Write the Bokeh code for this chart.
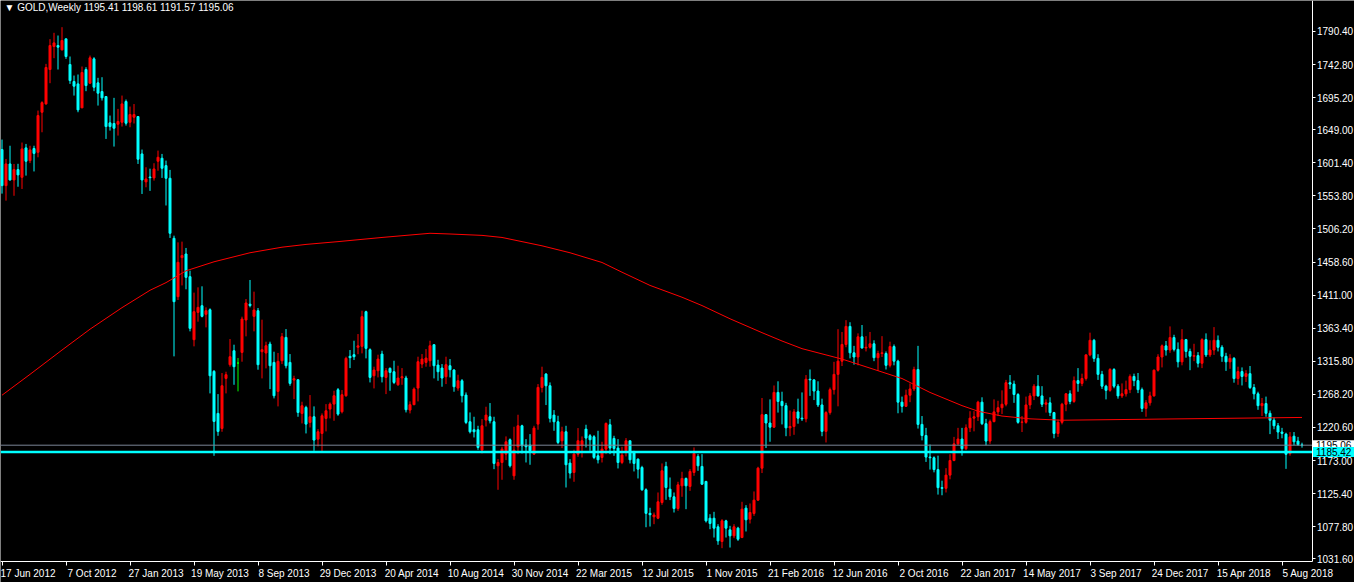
from bokeh.plotting import figure
from bokeh.models import Range1d, FixedTicker, LinearAxis, Label, ColumnDataSource
from bokeh.embed import file_html
from bokeh.resources import INLINE

# ---------------- data (weekly GOLD, first bar = week of 17 Jun 2012) ----------------
opens = [
    1620.5, 1568.6, 1599.8, 1576.8, 1591.7, 1580.6, 1622.9, 1604.6, 1622.0, 1616.6,
    1674.2, 1686.2, 1735.7, 1768.8, 1770.2, 1764.0, 1779.8, 1742.9, 1718.4, 1715.0,
    1680.5, 1735.7, 1716.0, 1751.0, 1716.5, 1704.0, 1696.8, 1658.9, 1658.0, 1657.0,
    1659.8, 1689.6, 1659.8, 1667.0, 1668.0, 1614.2, 1574.0, 1581.0, 1579.7, 1603.7,
    1608.0, 1597.4, 1579.2, 1492.8, 1408.8, 1465.0, 1470.2, 1437.6, 1346.9, 1386.2,
    1395.8, 1383.4, 1390.0, 1301.3, 1240.8, 1219.2, 1291.2, 1310.9, 1331.0, 1313.3,
    1328.6, 1375.2, 1398.0, 1380.5, 1388.6, 1329.6, 1327.7, 1340.6, 1314.2, 1272.5,
    1316.6, 1350.2, 1314.2, 1288.8, 1289.3, 1240.8, 1249.4, 1227.8, 1236.0, 1203.8,
    1212.0, 1233.6, 1247.0, 1254.2, 1274.9, 1243.2, 1266.2, 1323.0, 1325.3, 1336.0,
    1337.3, 1387.2, 1332.5, 1295.0, 1302.2, 1326.2, 1292.6, 1305.6, 1300.8, 1282.0,
    1292.0, 1291.7, 1245.6, 1253.3, 1277.3, 1311.8, 1314.2, 1316.6, 1339.7, 1310.4,
    1306.1, 1293.6, 1309.4, 1303.2, 1277.3, 1287.8, 1267.2, 1228.8, 1217.3, 1217.3,
    1188.0, 1231.2, 1236.0, 1228.8, 1165.4, 1170.2, 1182.2, 1202.9, 1151.0, 1192.8,
    1223.0, 1195.2, 1195.2, 1182.2, 1225.4, 1278.2, 1297.4, 1280.6, 1238.4, 1228.8,
    1201.4, 1214.4, 1169.3, 1155.8, 1182.2, 1194.2, 1218.2, 1208.6, 1207.2, 1179.8,
    1177.4, 1189.4, 1224.5, 1204.8, 1190.9, 1170.2, 1187.0, 1201.4, 1184.6, 1175.0,
    1163.0, 1130.9, 1097.0, 1092.0, 1090.0, 1112.6, 1164.5, 1131.8, 1120.8, 1104.0,
    1136.6, 1147.2, 1135.7, 1155.8, 1178.9, 1164.5, 1142.9, 1090.0, 1090.0, 1077.6,
    1056.5, 1086.2, 1073.3, 1064.6, 1075.7, 1062.2, 1104.5, 1088.6, 1096.8, 1116.0,
    1162, 1239, 1227, 1221, 1271, 1258, 1252, 1220, 1222, 1243,
    1234, 1233, 1290, 1289, 1273, 1253, 1215, 1242, 1275, 1297,
    1316, 1340, 1366, 1328, 1322, 1351, 1335, 1336, 1341, 1321,
    1327, 1327, 1310, 1337, 1316, 1257, 1251, 1267, 1276, 1304,
    1225, 1209, 1178, 1177, 1160, 1134, 1133, 1152, 1173, 1197,
    1204, 1190, 1220, 1234, 1236, 1257, 1226, 1201, 1229, 1243,
    1249, 1254, 1285, 1283, 1268, 1228, 1228, 1253, 1266, 1280,
    1266, 1254, 1256, 1242, 1212, 1228, 1254, 1269, 1258, 1288,
    1284, 1291, 1325, 1346, 1320, 1297, 1280, 1274, 1304, 1280,
    1266, 1269, 1275, 1294, 1288, 1275, 1248, 1256, 1266, 1303,
    1322, 1338, 1332, 1350, 1333, 1315, 1347, 1330, 1323, 1324,
    1313, 1347, 1325, 1332, 1346, 1336, 1323, 1315, 1320, 1291,
    1301, 1294, 1298, 1278, 1269, 1252, 1255, 1241, 1231, 1223,
    1214, 1211, 1183, 1208, 1201, 1195.41,
]
highs = [
    1634.9, 1607.0, 1626.0, 1599.8, 1600.0, 1630.6, 1628.6, 1626.0, 1626.0, 1676.6,
    1690.0, 1743.8, 1779.4, 1788.5, 1784.6, 1796.6, 1779.8, 1754.4, 1727.0, 1728.5,
    1740.0, 1739.0, 1755.8, 1753.4, 1723.7, 1724.6, 1696.8, 1669.4, 1694.9, 1679.0,
    1698.2, 1692.5, 1682.4, 1686.0, 1668.0, 1620.5, 1595.0, 1593.0, 1600.8, 1619.0,
    1614.2, 1604.6, 1591.2, 1496.6, 1487.0, 1488.0, 1478.9, 1446.2, 1414.6, 1422.2,
    1423.7, 1393.4, 1392.0, 1303.2, 1268.6, 1298.9, 1300.8, 1347.8, 1339.7, 1320.5,
    1380.0, 1405.4, 1432.8, 1416.0, 1392.5, 1375.7, 1344.0, 1344.0, 1329.6, 1327.7,
    1356.5, 1362.2, 1326.2, 1295.0, 1289.3, 1257.6, 1251.8, 1267.2, 1250.9, 1218.2,
    1240.8, 1254.2, 1256.6, 1273.4, 1277.3, 1274.4, 1322.4, 1332.0, 1345.4, 1355.0,
    1388.6, 1388.6, 1334.4, 1308.0, 1325.3, 1331.0, 1306.1, 1307.0, 1316.6, 1309.4,
    1306.0, 1295.0, 1258.1, 1278.2, 1322.4, 1326.2, 1333.4, 1345.4, 1339.7, 1318.0,
    1311.8, 1322.4, 1319.0, 1304.6, 1296.5, 1290.2, 1271.0, 1242.2, 1236.0, 1223.0,
    1232.6, 1250.4, 1255.7, 1236.0, 1175.0, 1192.8, 1207.7, 1204.8, 1221.6, 1238.9,
    1224.5, 1203.8, 1211.0, 1223.0, 1283.0, 1308.0, 1298.9, 1285.4, 1245.6, 1237.4,
    1221.6, 1223.0, 1175.0, 1188.5, 1219.7, 1207.7, 1224.5, 1211.0, 1209.6, 1215.8,
    1200.0, 1227.8, 1232.6, 1208.6, 1203.8, 1192.8, 1205.3, 1201.4, 1187.0, 1176.0,
    1165.4, 1133.0, 1105.0, 1098.2, 1127.0, 1168.8, 1171.2, 1148.6, 1127.0, 1142.4,
    1156.8, 1148.6, 1160.6, 1191.8, 1182.2, 1182.2, 1143.8, 1095.8, 1099.2, 1081.4,
    1088.6, 1087.7, 1079.0, 1081.4, 1077.6, 1113.6, 1108.8, 1111.2, 1128.5, 1164.0,
    1263, 1240, 1261, 1281, 1287, 1272, 1256, 1245, 1247, 1262,
    1271, 1296, 1304, 1290, 1287, 1262, 1244, 1278, 1315, 1362,
    1358, 1375, 1372, 1338, 1356, 1368, 1352, 1358, 1346, 1331,
    1352, 1330, 1344, 1340, 1318, 1265, 1275, 1284, 1308, 1338,
    1237, 1220, 1196, 1179, 1180, 1144, 1162, 1182, 1207, 1220,
    1220, 1225, 1244, 1244, 1259, 1264, 1233, 1232, 1261, 1259,
    1274, 1289, 1296, 1288, 1270, 1237, 1265, 1270, 1283, 1296,
    1280, 1261, 1264, 1243, 1232, 1256, 1270, 1274, 1294, 1306,
    1298, 1326, 1357, 1348, 1326, 1302, 1282, 1306, 1306, 1283,
    1284, 1288, 1297, 1298, 1299, 1278, 1260, 1272, 1304, 1326,
    1340, 1345, 1366, 1354, 1343, 1362, 1348, 1334, 1341, 1329,
    1349, 1356, 1346, 1365, 1353, 1339, 1328, 1326, 1322, 1308,
    1307, 1303, 1309, 1283, 1272, 1263, 1265, 1245, 1235, 1227,
    1220, 1213, 1214, 1214, 1207, 1198.61,
]
lows = [
    1557.1, 1547.0, 1575.8, 1554.0, 1567.0, 1563.8, 1583.0, 1601.0, 1589.0, 1609.4,
    1645.4, 1685.0, 1716.0, 1752.0, 1735.7, 1763.0, 1751.0, 1715.0, 1698.2, 1674.2,
    1680.5, 1704.5, 1715.0, 1704.5, 1683.8, 1691.0, 1635.8, 1647.8, 1624.8, 1640.6,
    1653.6, 1655.0, 1652.6, 1658.0, 1599.8, 1556.6, 1566.2, 1561.0, 1575.8, 1590.0,
    1579.7, 1540.0, 1493.3, 1322.9, 1404.0, 1425.0, 1419.4, 1358.9, 1337.3, 1372.8,
    1379.0, 1364.6, 1269.6, 1179.8, 1208.6, 1214.4, 1269.6, 1308.0, 1282.0, 1272.5,
    1315.2, 1351.7, 1393.4, 1358.9, 1303.7, 1291.2, 1305.6, 1275.8, 1262.4, 1250.9,
    1311.8, 1305.6, 1280.6, 1261.4, 1236.0, 1226.4, 1212.0, 1220.6, 1187.0, 1193.3,
    1184.6, 1214.9, 1233.6, 1230.2, 1237.4, 1240.8, 1264.8, 1306.0, 1317.6, 1326.0,
    1327.2, 1320.0, 1285.4, 1276.8, 1292.6, 1285.4, 1268.6, 1273.4, 1283.0, 1280.6,
    1282.0, 1242.2, 1240.8, 1252.8, 1258.1, 1306.0, 1308.0, 1308.0, 1291.2, 1287.8,
    1279.2, 1283.0, 1292.6, 1272.0, 1273.4, 1256.6, 1225.4, 1212.0, 1206.2, 1188.5,
    1183.2, 1222.0, 1226.4, 1160.6, 1130.9, 1145.3, 1173.6, 1163.0, 1145.3, 1182.2,
    1183.2, 1170.2, 1166.9, 1181.3, 1217.3, 1271.0, 1252.8, 1227.8, 1215.8, 1196.6,
    1190.9, 1134.2, 1147.2, 1142.4, 1178.4, 1177.4, 1191.8, 1187.0, 1175.0, 1168.8,
    1170.2, 1182.2, 1182.2, 1179.8, 1161.6, 1167.8, 1178.9, 1168.8, 1157.3, 1147.2,
    1129.4, 1077.0, 1078.0, 1081.4, 1088.6, 1109.3, 1116.5, 1116.0, 1098.2, 1100.6,
    1120.8, 1103.0, 1129.4, 1151.0, 1158.2, 1138.0, 1083.8, 1074.2, 1062.2, 1051.7,
    1046.9, 1062.2, 1047.8, 1061.3, 1057.4, 1061.3, 1070.9, 1082.4, 1093.4, 1115.0,
    1155, 1191, 1200, 1220, 1242, 1225, 1208, 1208, 1210, 1226,
    1230, 1228, 1266, 1260, 1250, 1208, 1199, 1239, 1268, 1251,
    1309, 1336, 1320, 1311, 1310, 1334, 1330, 1334, 1316, 1302,
    1322, 1304, 1307, 1310, 1241, 1242, 1250, 1257, 1273, 1219,
    1202, 1171, 1160, 1156, 1124, 1123, 1127, 1146, 1172, 1195,
    1180, 1188, 1214, 1215, 1230, 1224, 1195, 1197, 1228, 1237,
    1240, 1251, 1276, 1256, 1226, 1214, 1226, 1247, 1260, 1265,
    1250, 1242, 1237, 1205, 1207, 1225, 1244, 1254, 1256, 1272,
    1280, 1288, 1323, 1315, 1289, 1276, 1261, 1272, 1277, 1262,
    1263, 1265, 1270, 1280, 1270, 1243, 1236, 1252, 1265, 1301,
    1307, 1324, 1328, 1330, 1307, 1310, 1321, 1303, 1316, 1307,
    1306, 1322, 1322, 1325, 1330, 1315, 1302, 1305, 1285, 1282,
    1281, 1286, 1276, 1261, 1246, 1237, 1236, 1211, 1218, 1204,
    1205, 1161, 1180, 1195, 1194, 1191.57,
]
closes = [
    1568.6, 1599.8, 1576.8, 1591.7, 1584.0, 1621.4, 1603.7, 1620.0, 1615.0, 1669.4,
    1688.0, 1738.6, 1770.2, 1774.0, 1767.8, 1777.4, 1754.4, 1719.8, 1711.7, 1677.6,
    1731.4, 1712.6, 1752.5, 1710.2, 1701.6, 1694.9, 1653.6, 1653.6, 1651.2, 1660.9,
    1686.2, 1658.4, 1670.9, 1670.9, 1606.6, 1576.8, 1578.2, 1580.0, 1592.6, 1609.4,
    1593.6, 1579.2, 1500.0, 1401.6, 1458.2, 1468.0, 1436.6, 1363.2, 1387.2, 1393.4,
    1380.5, 1388.6, 1295.0, 1229.3, 1214.9, 1280.6, 1296.5, 1322.4, 1308.0, 1313.3,
    1376.6, 1399.7, 1396.0, 1389.6, 1310.9, 1332.5, 1338.2, 1309.4, 1266.2, 1315.7,
    1351.2, 1309.4, 1284.0, 1290.8, 1242.2, 1251.8, 1225.4, 1236.0, 1202.4, 1214.4,
    1237.4, 1244.6, 1254.2, 1266.2, 1239.8, 1267.7, 1320.0, 1321.0, 1322.4, 1338.0,
    1380.0, 1334.4, 1292.6, 1303.2, 1319.0, 1293.6, 1302.2, 1299.8, 1285.4, 1291.7,
    1293.6, 1246.1, 1253.3, 1275.8, 1315.2, 1319.0, 1320.5, 1338.2, 1309.4, 1300.8,
    1291.7, 1310.9, 1303.7, 1279.2, 1287.8, 1266.2, 1227.8, 1214.4, 1214.4, 1191.8,
    1223.0, 1238.4, 1230.2, 1168.8, 1170.2, 1189.4, 1200.0, 1165.4, 1188.0, 1223.0,
    1194.2, 1192.8, 1187.0, 1219.7, 1278.2, 1292.6, 1280.6, 1233.6, 1228.8, 1199.0,
    1214.4, 1166.9, 1154.9, 1182.2, 1201.4, 1201.4, 1205.3, 1202.9, 1177.4, 1174.1,
    1189.4, 1226.4, 1190.9, 1190.4, 1170.2, 1180.8, 1201.4, 1174.1, 1168.8, 1160.6,
    1130.9, 1097.0, 1095.0, 1094.6, 1113.6, 1158.2, 1134.2, 1120.8, 1104.0, 1138.0,
    1147.2, 1136.6, 1157.3, 1183.2, 1165.4, 1139.0, 1086.2, 1082.4, 1075.7, 1057.4,
    1086.2, 1075.7, 1064.6, 1077.6, 1059.8, 1103.0, 1087.7, 1098.2, 1116.0, 1162.0,
    1239, 1227, 1221, 1271, 1258, 1252, 1220, 1222, 1243, 1234,
    1233, 1290, 1289, 1273, 1253, 1215, 1242, 1275, 1297, 1316,
    1340, 1366, 1328, 1322, 1351, 1335, 1336, 1341, 1321, 1327,
    1328, 1310, 1337, 1316, 1257, 1251, 1267, 1276, 1304, 1225,
    1209, 1178, 1177, 1160, 1134, 1133, 1152, 1173, 1197, 1204,
    1190, 1220, 1234, 1236, 1257, 1226, 1201, 1229, 1243, 1249,
    1254, 1285, 1283, 1268, 1228, 1228.5, 1253, 1266, 1280, 1266,
    1254, 1256, 1242, 1212, 1228, 1254, 1269, 1258, 1288, 1284,
    1291, 1325, 1346, 1320, 1297, 1280, 1274, 1304, 1280, 1266,
    1269, 1275, 1294, 1288, 1275, 1248, 1256, 1266, 1303, 1322,
    1338, 1332, 1350, 1333, 1315, 1347, 1330, 1323, 1324, 1313,
    1347, 1325, 1332, 1346, 1336, 1323, 1315, 1320, 1291, 1301,
    1294, 1298, 1278, 1269, 1252, 1255, 1241, 1231, 1223, 1214,
    1212, 1182, 1207, 1200, 1196, 1195.06,
]

# 200-period moving average (bar index, value)
ma_idx = [0, 7, 15, 22, 30, 37, 41, 46, 53, 62, 70, 76, 84, 95, 107, 112, 120, 125, 135, 142,
          150, 155, 162, 170, 175, 182, 190, 195, 200, 210, 217, 225, 232, 240, 244, 250,
          257, 265, 295, 325]
ma_val = [1267, 1297, 1332, 1362, 1393, 1418, 1429, 1446, 1459, 1472, 1480, 1484, 1488, 1494, 1500, 1499,
          1497, 1494, 1482, 1472, 1458, 1444, 1425, 1408, 1396, 1377, 1357, 1345, 1334, 1319,
          1306, 1291, 1271, 1252, 1244, 1237, 1233, 1231, 1233, 1235]

date_labels = ["17 Jun 2012", "7 Oct 2012", "27 Jan 2013", "19 May 2013", "8 Sep 2013",
               "29 Dec 2013", "20 Apr 2014", "10 Aug 2014", "30 Nov 2014", "22 Mar 2015",
               "12 Jul 2015", "1 Nov 2015", "21 Feb 2016", "12 Jun 2016", "2 Oct 2016",
               "22 Jan 2017", "14 May 2017", "3 Sep 2017", "24 Dec 2017", "15 Apr 2018",
               "5 Aug 2018"]
date_bars = [0, 16, 32, 48, 64, 80, 96, 112, 128, 144, 160, 176, 192, 208, 224, 240, 256,
             272, 288, 304, 320]
price_ticks = [1031.6, 1077.8, 1125.4, 1173.0, 1220.6, 1268.2, 1315.8, 1363.4, 1411.0,
               1458.6, 1506.2, 1553.8, 1601.4, 1649.0, 1695.2, 1742.8, 1790.4]
price_labels = ["1031.60", "1077.80", "1125.40", "1173.00", "1220.60", "1268.20", "1315.80",
                "1363.40", "1411.00", "1458.60", "1506.20", "1553.80", "1601.40", "1649.00",
                "1695.20", "1742.80", "1790.40"]
hline_level = 1185.42
symbol = "GOLD,Weekly"

# ---------------- chart window ----------------
W, H = 1354, 582
X_LEFT, X_AXIS = -0.375, 327.5          # bar units (4 px per bar); price scale at X_AXIS
X_END = X_LEFT + W / 4.0
Y_TOP, Y_AXIS = 1835.0, 1027.7          # price units; date scale at Y_AXIS
Y_END = Y_TOP - H / 0.69491

FONT = "Liberation Sans"
BULL, BEAR, DOJI = "#FF0000", "#00FFFF", "#00FF00"

p = figure(width=W, height=H, output_backend="svg", toolbar_location=None,
           x_range=Range1d(X_LEFT, X_END), y_range=Range1d(Y_END, Y_TOP),
           x_axis_type=None, y_axis_type=None,
           background_fill_color="#000000", border_fill_color="#000000",
           outline_line_color=None,
           min_border_left=0, min_border_top=0, min_border_right=0, min_border_bottom=0)

groups = {BULL: dict(x=[], top=[], bottom=[], high=[], low=[]),
          BEAR: dict(x=[], top=[], bottom=[], high=[], low=[]),
          DOJI: dict(x=[], top=[], bottom=[], high=[], low=[])}
for i, (o, h, l, c) in enumerate(zip(opens, highs, lows, closes)):
    col = BULL if c > o else (BEAR if c < o else DOJI)
    g = groups[col]
    g["x"].append(i)
    g["top"].append(max(o, c))
    g["bottom"].append(min(o, c))
    g["high"].append(h)
    g["low"].append(l)

for col, g in groups.items():
    src = ColumnDataSource(g)
    p.segment(x0="x", y0="low", x1="x", y1="high", source=src, line_color=col, line_width=1)
    p.vbar(x="x", width=0.5, top="top", bottom="bottom", source=src,
           fill_color=col, line_color=col, line_width=1)

p.line(ma_idx, ma_val, line_color="#FF0000", line_width=1)

# bid line and user horizontal line (stop at the price scale)
p.segment(x0=[X_LEFT], x1=[X_AXIS], y0=[closes[-1]], y1=[closes[-1]],
          line_color="#7A8595", line_width=1)
p.segment(x0=[X_LEFT], x1=[X_AXIS], y0=[hline_level], y1=[hline_level],
          line_color="#00FFFF", line_width=2.5)

# price axis (right side of chart area)
yax = LinearAxis(ticker=FixedTicker(ticks=price_ticks), fixed_location=X_AXIS,
                 bounds=(Y_AXIS, Y_TOP))
yax.major_label_overrides = {t: s for t, s in zip(price_ticks, price_labels)}
yax.axis_line_color = "#FFFFFF"
yax.major_tick_line_color = "#FFFFFF"
yax.major_tick_in = 0
yax.major_tick_out = 3
yax.minor_tick_line_color = None
yax.minor_tick_out = 0
yax.major_label_standoff = 2
yax.major_label_text_color = "#FFFFFF"
yax.major_label_text_font = FONT
yax.major_label_text_font_size = "10px"
p.add_layout(yax, "right")

# date axis (bottom): marks at the dates, labels just to their right
label_pos = [b + 6.5 for b in date_bars]
xax = LinearAxis(ticker=FixedTicker(ticks=label_pos, minor_ticks=date_bars),
                 fixed_location=Y_AXIS, bounds=(X_LEFT, X_AXIS))
xax.major_label_overrides = {t: s for t, s in zip(label_pos, date_labels)}
xax.axis_line_color = "#FFFFFF"
xax.major_tick_line_color = None
xax.major_tick_in = 0
xax.major_tick_out = 0
xax.minor_tick_line_color = "#FFFFFF"
xax.minor_tick_in = 0
xax.minor_tick_out = 4
xax.major_label_standoff = 2
xax.major_label_text_color = "#FFFFFF"
xax.major_label_text_font = FONT
xax.major_label_text_font_size = "10px"
p.add_layout(xax, "below")

# current price tags on the price scale
tag_pad = dict(left=3, right=8, top=1, bottom=1)
p.add_layout(Label(x=X_AXIS, y=closes[-1], x_offset=1, text="%.2f" % closes[-1],
                   text_color="#000000", text_font=FONT, text_font_size="10px",
                   text_baseline="middle", text_align="left",
                   background_fill_color="#FFFFFF", padding=tag_pad))
p.add_layout(Label(x=X_AXIS, y=hline_level, x_offset=1, text="%.2f" % hline_level,
                   text_color="#000000", text_font=FONT, text_font_size="10px",
                   text_baseline="middle", text_align="left",
                   background_fill_color="#00FFFF", padding=tag_pad))

# title
p.add_layout(Label(x=X_LEFT, y=Y_TOP, x_offset=4, y_offset=-1,
                   text="\u25BC  %s  %.2f %.2f %.2f %.2f" % (symbol, opens[-1], highs[-1], lows[-1], closes[-1]),
                   text_color="#FFFFFF", text_font=FONT, text_font_size="10px",
                   text_baseline="top", text_align="left"))

open("out.html", "w").write(file_html(p, INLINE))
